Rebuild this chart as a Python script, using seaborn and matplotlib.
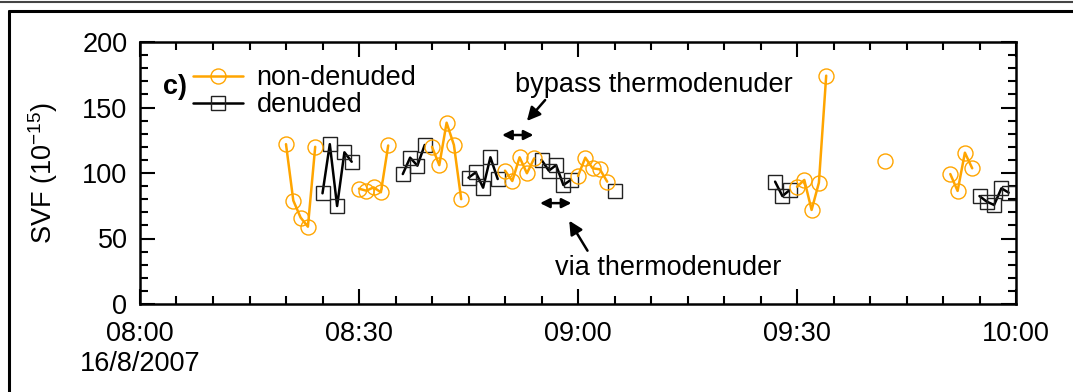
import numpy as np
import pandas as pd
import matplotlib
matplotlib.use("Agg")
import matplotlib.pyplot as plt
from matplotlib.lines import Line2D
from matplotlib.ticker import MultipleLocator
import seaborn as sns

# Minutes after 08:00 on 16/8/2007 and the measured SVF (units of 1e-15)
nondenuded_min = [20, 21, 22, 23, 24,
                  30, 31, 32, 33, 34,
                  40, 41, 42, 43, 44,
                  50, 51, 52, 53, 54,
                  60, 61, 62, 63, 64,
                  90, 91, 92, 93, 94,
                  102,
                  111, 112, 113, 114]
nondenuded_svf = [122, 79, 66, 59, 120,
                  88, 86.5, 89, 85.3, 121,
                  120, 106, 138.4, 121.4, 80,
                  101.8, 93.9, 112, 99.8, 111.2,
                  97.7, 111.7, 103.6, 102.8, 93.4,
                  89.5, 94.7, 71.8, 92.6, 174.3,
                  109.4,
                  99.2, 86.3, 115.5, 103.6]

denuded_min = [25, 26, 27, 28, 29,
               36, 37, 38, 39,
               45, 46, 47, 48, 49,
               55, 56, 57, 58, 59,
               65,
               87, 88, 89,
               115, 116, 117, 118, 119]
denuded_svf = [84.5, 122, 74.8, 115.8, 108.6,
               99.2, 111.7, 105.6, 121.4,
               96.4, 100.5, 88.8, 112, 95.4,
               110, 101.8, 106, 90.8, 94.7,
               86.3,
               93.4, 82.4, 87,
               82.4, 78.1, 75.6, 88.3, 85]

tick_minutes = [0, 30, 60, 90, 120]
tick_labels = ["08:00\n16/8/2007", "08:30", "09:00", "09:30", "10:00"]

ORANGE = "#FFA500"
BLACK = "#000000"
FS = 19.5


def to_frame(minutes, values):
    # consecutive samples more than a minute and a half apart are not joined
    t = np.asarray(minutes, dtype=float)
    seg = np.concatenate([[0], np.cumsum(np.diff(t) > 1.5)])
    return pd.DataFrame({"minute": t, "svf": values, "seg": seg})


df_nd = to_frame(nondenuded_min, nondenuded_svf)
df_d = to_frame(denuded_min, denuded_svf)

sns.set_style("white")
plt.rcParams["font.family"] = ["Liberation Sans", "DejaVu Sans"]
plt.rcParams["font.size"] = FS
plt.rcParams["text.color"] = "black"
plt.rcParams["axes.labelcolor"] = "black"
plt.rcParams["xtick.color"] = "black"
plt.rcParams["ytick.color"] = "black"
plt.rcParams["mathtext.fontset"] = "custom"
plt.rcParams["mathtext.rm"] = "Liberation Sans"
plt.rcParams["mathtext.it"] = "Liberation Sans"

fig = plt.figure(figsize=(10.73, 3.92), dpi=100)
ax = fig.add_axes([140 / 1073, 1 - 304 / 392, 876 / 1073, 262 / 392])

nd_style = dict(color=ORANGE, lw=1.8, marker="o", ms=10.8, mfc="none",
                mec=ORANGE, mew=1.0)
d_style = dict(color=BLACK, lw=1.8, marker="s", ms=10.2, mfc="none",
               mec="#222222", mew=1.0)

sns.lineplot(data=df_nd, x="minute", y="svf", units="seg", estimator=None,
             legend=False, ax=ax, zorder=3, **nd_style)
sns.lineplot(data=df_d, x="minute", y="svf", units="seg", estimator=None,
             legend=False, ax=ax, zorder=2, **d_style)

ax.set_xlim(0, 120)
ax.set_ylim(0, 200)
ax.set_xticks(tick_minutes)
ax.set_xticklabels(tick_labels, linespacing=1.2)
ax.xaxis.set_minor_locator(MultipleLocator(5))
ax.set_yticks([0, 50, 100, 150, 200])
ax.yaxis.set_minor_locator(MultipleLocator(10))
ax.tick_params(which="both", direction="in", top=True, right=True,
               bottom=True, left=True, width=1.5, color="black",
               labelsize=FS)
ax.tick_params(which="major", length=11)
ax.tick_params(which="minor", length=6)
ax.tick_params(axis="x", which="major", pad=12)
ax.tick_params(axis="y", which="major", pad=9)
for s in ax.spines.values():
    s.set_linewidth(1.8)
    s.set_color("black")
ax.set_xlabel("")
ax.set_ylabel(r"SVF (10$^{-15}$)", fontsize=FS, labelpad=16)

# legend
handles = [Line2D([], [], **nd_style), Line2D([], [], **d_style)]
ax.legend(handles, ["non-denuded", "denuded"], loc="upper left",
          bbox_to_anchor=((193 - 140) / 876, 1 - (65 - 42) / 262),
          frameon=False, borderpad=0, borderaxespad=0, handlelength=1.85,
          handletextpad=0.5, labelspacing=0.05, fontsize=FS)
ax.text(4.8, 166, "c)", fontsize=FS, fontweight="bold",
        ha="center", va="center")

# sampling-mode annotations
ax.annotate("", xy=(49.6, 129), xytext=(53.9, 129),
            arrowprops=dict(arrowstyle="<|-|>", color="black", lw=1.8,
                            mutation_scale=14, shrinkA=0, shrinkB=0))
ax.annotate("", xy=(54.8, 77), xytext=(59.1, 77),
            arrowprops=dict(arrowstyle="<|-|>", color="black", lw=1.8,
                            mutation_scale=14, shrinkA=0, shrinkB=0))
ax.annotate("", xy=(53.0, 139.7), xytext=(55.5, 155.7),
            arrowprops=dict(arrowstyle="-|>", color="black", lw=1.8,
                            mutation_scale=20, shrinkA=0, shrinkB=0))
ax.annotate("", xy=(58.8, 63.6), xytext=(61.3, 40.7),
            arrowprops=dict(arrowstyle="-|>", color="black", lw=1.8,
                            mutation_scale=20, shrinkA=0, shrinkB=0))
ax.text(70.4, 167, "bypass thermodenuder", ha="center", va="center",
        fontsize=FS)
ax.text(72.3, 27.5, "via thermodenuder", ha="center", va="center",
        fontsize=FS)

# panel frame
W, H = 1073, 392
fig.add_artist(Line2D([0, 1], [1 - 1.5 / H, 1 - 1.5 / H], color="#444444",
                      lw=1.5, transform=fig.transFigure))
fig.add_artist(Line2D([8.5 / W, 1], [1 - 11 / H, 1 - 11 / H], color="black",
                      lw=2.2, transform=fig.transFigure))
fig.add_artist(Line2D([8.5 / W, 8.5 / W], [0, 1 - 11 / H], color="black",
                      lw=2.2, transform=fig.transFigure))

fig.savefig("out.png", dpi=100)
